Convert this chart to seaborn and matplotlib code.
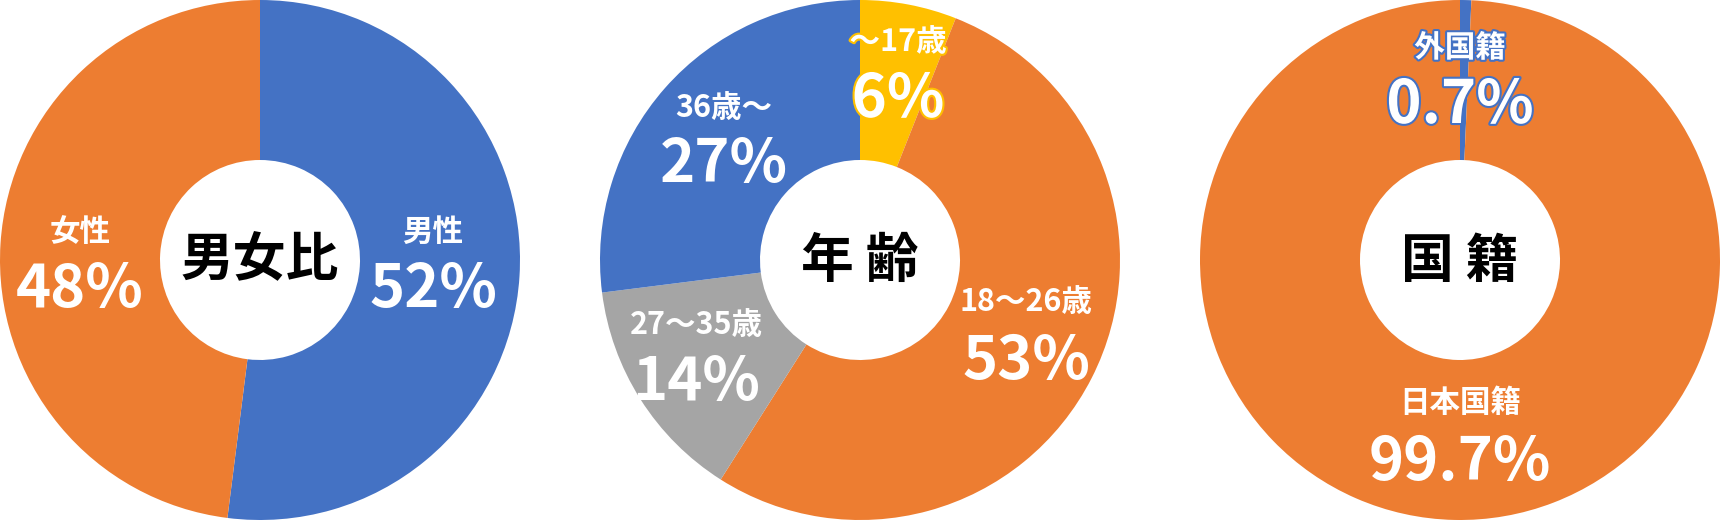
import matplotlib
matplotlib.use("Agg")
import matplotlib.pyplot as plt
import matplotlib.patheffects as pe
import seaborn as sns

# --- data ---
gender_labels = ["男性", "女性"]
gender_values = [52, 48]
gender_pct = ["52%", "48%"]

age_labels = ["〜17歳", "18〜26歳", "27〜35歳", "36歳〜"]
age_values = [6, 53, 14, 27]
age_pct = ["6%", "53%", "14%", "27%"]

nat_labels = ["外国籍", "日本国籍"]
nat_values = [0.7, 99.7]
nat_pct = ["0.7%", "99.7%"]

titles = ["男女比", "年 齢", "国 籍"]

BLUE = "#4472C4"
ORANGE = "#ED7D31"
GRAY = "#A5A5A5"
YELLOW = "#FFC000"

sns.set_theme(style="white")
plt.rcParams["font.family"] = ["Noto Sans CJK JP", "DejaVu Sans"]

W, H = 1720, 520
fig = plt.figure(figsize=(W / 100, H / 100), dpi=100)
ax = fig.add_axes([0, 0, 1, 1])

R = 260
HOLE = 100


def Y(ypix):
    return H - ypix


def donut(cx, values, colors):
    ax.pie(values, colors=colors, startangle=90, counterclock=False,
           center=(cx, Y(260)), radius=R, frame=True,
           wedgeprops=dict(width=R - HOLE, linewidth=0))


def label(x, y, small, big, stroke=None):
    fx = [pe.withStroke(linewidth=3, foreground=stroke)] if stroke else None
    ax.text(x, Y(y[0]), small, ha="center", va="center", color="white",
            fontsize=22, fontweight="bold", path_effects=fx)
    ax.text(x, Y(y[1]), big, ha="center", va="center", color="white",
            fontsize=43, fontweight="bold", path_effects=fx)


# pies
donut(260, gender_values, [BLUE, ORANGE])
donut(860, age_values, [YELLOW, ORANGE, GRAY, BLUE])
donut(1460, nat_values, [BLUE, ORANGE])
ax.set_xlim(0, W)
ax.set_ylim(0, H)
ax.set_aspect("equal")
ax.axis("off")

# gender labels
label(433, (232, 290), gender_labels[0], gender_pct[0])
label(80, (232, 290), gender_labels[1], gender_pct[1])

# age labels
label(898, (42, 100), age_labels[0], age_pct[0], stroke=YELLOW)
label(1026, (302, 362), age_labels[1], age_pct[1])
label(696, (325, 383), age_labels[2], age_pct[2])
label(724, (108, 165), age_labels[3], age_pct[3])

# nationality labels
label(1460, (48, 106), nat_labels[0], nat_pct[0], stroke=BLUE)
label(1460, (403, 463), nat_labels[1], nat_pct[1])

# centre titles
for cx, t in zip([260, 860, 1460], titles):
    ax.text(cx, Y(261), t, ha="center", va="center", color="black",
            fontsize=38, fontweight="bold")

fig.savefig("out.png", dpi=100, facecolor="white")
